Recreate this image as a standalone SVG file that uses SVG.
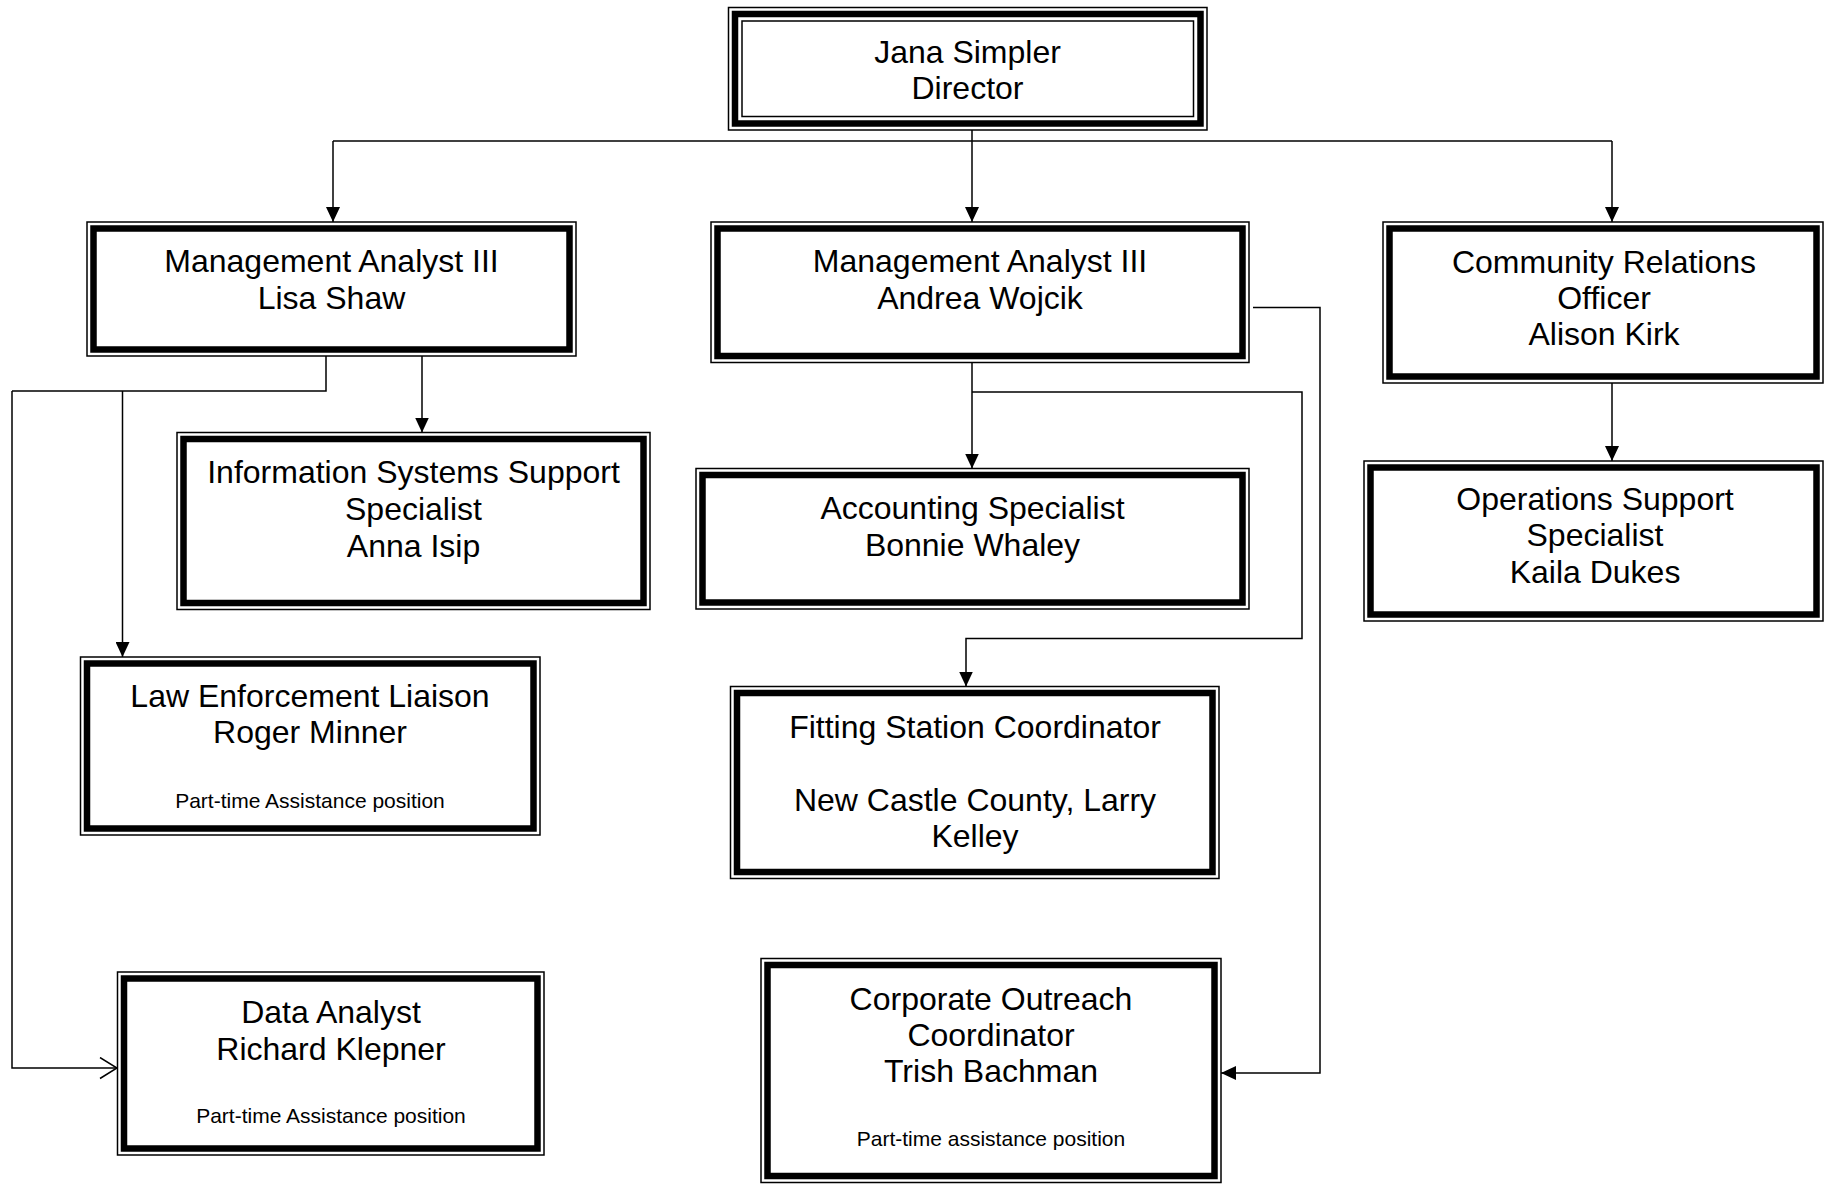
<svg xmlns="http://www.w3.org/2000/svg" width="1824" height="1184" viewBox="0 0 1824 1184">
<style>
  .thin { fill: none; stroke: #000; stroke-width: 1.5; }
  .thick { fill: none; stroke: #000; stroke-width: 6.5; }
  .t { font-family: "Liberation Sans", Arial, sans-serif; font-size: 32px; fill: #000; text-anchor: middle; }
  .s { font-family: "Liberation Sans", Arial, sans-serif; font-size: 21px; fill: #000; text-anchor: middle; }
  .c { fill: none; stroke: #000; stroke-width: 1.5; }
</style>
<defs>
  <marker id="arr" markerUnits="userSpaceOnUse" viewBox="0 0 15 14" refX="15" refY="7" markerWidth="15" markerHeight="14" orient="auto">
    <path d="M0,0 L15,7 L0,14 Z" fill="#000"/>
  </marker>
  <marker id="open" markerUnits="userSpaceOnUse" viewBox="-1 -1 19 23" refX="17" refY="10.5" markerWidth="19" markerHeight="23" orient="auto">
    <path d="M0,0 L17,10.5 L0,21" fill="none" stroke="#000" stroke-width="1.5"/>
  </marker>
</defs>
<rect width="1824" height="1184" fill="#fff"/>

<g id="connectors">
  <path class="c" d="M972,130 V222" marker-end="url(#arr)"/>
  <path class="c" d="M333,141 H1612"/>
  <path class="c" d="M333,141 V222" marker-end="url(#arr)"/>
  <path class="c" d="M1612,141 V222" marker-end="url(#arr)"/>
  <path class="c" d="M326,356 V391 H12"/>
  <path class="c" d="M12,391 V1068 H117" marker-end="url(#open)"/>
  <path class="c" d="M122.5,391 V657" marker-end="url(#arr)"/>
  <path class="c" d="M422,356 V432.5" marker-end="url(#arr)"/>
  <path class="c" d="M972,362.5 V468.5" marker-end="url(#arr)"/>
  <path class="c" d="M972,392 H1302 V638.5 H966 V686.5" marker-end="url(#arr)"/>
  <path class="c" d="M1253,307.5 H1320 V1073 H1221" marker-end="url(#arr)"/>
  <path class="c" d="M1612,383 V461" marker-end="url(#arr)"/>
</g>

<g id="director">
  <rect class="thin" x="728.5" y="7.5" width="478.5" height="122.5"/>
  <rect class="thick" x="735" y="14" width="465.5" height="109.5" stroke-width="5.5"/>
  <rect class="thin" x="742" y="21" width="451.5" height="95.5"/>
  <text class="t"><tspan x="967.5" y="63">Jana Simpler</tspan><tspan x="967.5" y="99">Director</tspan></text>
</g>

<g id="lisa-shaw">
  <rect class="thin" x="87" y="222" width="489" height="134"/>
  <rect class="thick" x="93.5" y="228.5" width="476" height="121"/>
  <text class="t"><tspan x="331.5" y="272">Management Analyst III</tspan><tspan x="331.5" y="309">Lisa Shaw</tspan></text>
</g>

<g id="andrea-wojcik">
  <rect class="thin" x="711" y="222" width="538" height="140.5"/>
  <rect class="thick" x="717.5" y="228.5" width="525" height="127.5"/>
  <text class="t"><tspan x="980" y="272">Management Analyst III</tspan><tspan x="980" y="309">Andrea Wojcik</tspan></text>
</g>

<g id="alison-kirk">
  <rect class="thin" x="1383" y="222" width="440" height="161"/>
  <rect class="thick" x="1389.5" y="228.5" width="427" height="148"/>
  <text class="t"><tspan x="1604" y="272.5">Community Relations</tspan><tspan x="1604" y="309">Officer</tspan><tspan x="1604" y="345">Alison Kirk</tspan></text>
</g>

<g id="anna-isip">
  <rect class="thin" x="177" y="432.5" width="473" height="177"/>
  <rect class="thick" x="183.5" y="439" width="460" height="164"/>
  <text class="t"><tspan x="413.5" y="482.5">Information Systems Support</tspan><tspan x="413.5" y="519.5">Specialist</tspan><tspan x="413.5" y="556.5">Anna Isip</tspan></text>
</g>

<g id="bonnie-whaley">
  <rect class="thin" x="696" y="468.5" width="553" height="140.5"/>
  <rect class="thick" x="702.5" y="475" width="540" height="127.5"/>
  <text class="t"><tspan x="972.5" y="519">Accounting Specialist</tspan><tspan x="972.5" y="555.5">Bonnie Whaley</tspan></text>
</g>

<g id="kaila-dukes">
  <rect class="thin" x="1364" y="461" width="459" height="160"/>
  <rect class="thick" x="1370.5" y="467.5" width="446" height="147"/>
  <text class="t"><tspan x="1595" y="509.5">Operations Support</tspan><tspan x="1595" y="546">Specialist</tspan><tspan x="1595" y="582.5">Kaila Dukes</tspan></text>
</g>

<g id="roger-minner">
  <rect class="thin" x="80.5" y="657" width="459.5" height="178"/>
  <rect class="thick" x="87" y="663.5" width="446.5" height="165"/>
  <text class="t"><tspan x="310" y="706.5">Law Enforcement Liaison</tspan><tspan x="310" y="743">Roger Minner</tspan></text>
  <text class="s" x="310" y="808">Part-time Assistance position</text>
</g>

<g id="larry-kelley">
  <rect class="thin" x="730.5" y="686.5" width="488.5" height="192"/>
  <rect class="thick" x="737" y="693" width="475.5" height="179"/>
  <text class="t"><tspan x="975" y="737.5">Fitting Station Coordinator</tspan><tspan x="975" y="810.5">New Castle County, Larry</tspan><tspan x="975" y="847">Kelley</tspan></text>
</g>

<g id="richard-klepner">
  <rect class="thin" x="117.5" y="972" width="426.5" height="183"/>
  <rect class="thick" x="124" y="978.5" width="413.5" height="170"/>
  <text class="t"><tspan x="331" y="1022.5">Data Analyst</tspan><tspan x="331" y="1060">Richard Klepner</tspan></text>
  <text class="s" x="331" y="1122.5">Part-time Assistance position</text>
</g>

<g id="trish-bachman">
  <rect class="thin" x="761" y="958.5" width="460" height="224"/>
  <rect class="thick" x="767.5" y="965" width="447" height="211"/>
  <text class="t"><tspan x="991" y="1009.5">Corporate Outreach</tspan><tspan x="991" y="1045.5">Coordinator</tspan><tspan x="991" y="1081.5">Trish Bachman</tspan></text>
  <text class="s" x="991" y="1146">Part-time assistance position</text>
</g>
</svg>
